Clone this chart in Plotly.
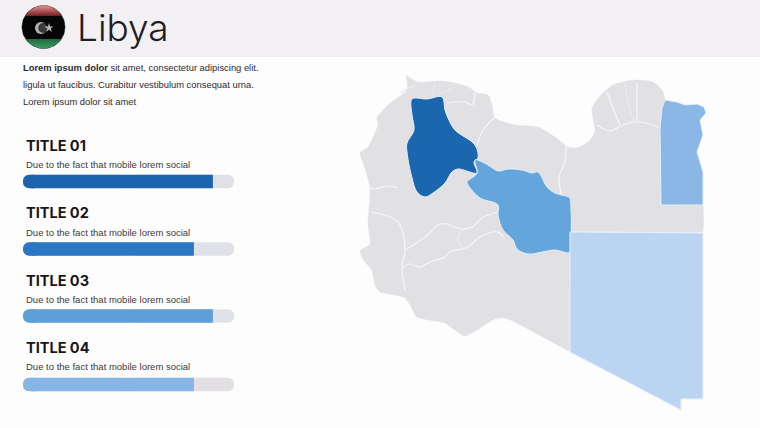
import numpy as np
import plotly.graph_objects as go

# ---------- data ----------
titles = ["TITLE 01", "TITLE 02", "TITLE 03", "TITLE 04"]
subtitle = "Due to the fact that mobile lorem social"
percent = [90, 81, 90, 81]
bar_colors = ["#1c65ae", "#2a78c4", "#5e9fd9", "#86b5e6"]
track_colors = ["#dfe1e7", "#dfe1e7", "#dfe2e6", "#e3e0e3"]
bar_y = [181.5, 249, 316, 384.5]
title_y = [145, 212, 280, 347]
sub_y = [164, 232, 299, 366]

paragraph = ["<b>Lorem ipsum dolor</b> sit amet, consectetur adipiscing elit.",
             "ligula ut faucibus. Curabitur vestibulum consequat urna.",
             "Lorem ipsum dolor sit amet"]
para_y = [67, 84, 101]

libya_outline = [(405,75),(418,82),(440,81),(455,83),(470,88),(477,93),(488,95),(492,105),(495,118),(515,125),
    (538,127),(555,137),(568,147),(577,148),(588,142),(595,132),(592,108),(603,93),(613,85),(627,81),(638,80),
    (653,82),(662,90),(665,100),(665,204),(666,205),(702,205),(703,206),(703,231),(702,232),(571,232),(570,233),
    (570,351),(569,351),(505,318),(495,319),(465,336),
    (455,330),(445,323),(417,317),(410,305),(405,298),(395,295),(380,292),(375,285),(372,270),(365,262),(360,251),
    (370,244),(368,225),(370,188),(365,168),(360,153),(368,147),(378,125),(377,118),(388,105),(407,90),(406,76),(405,75)]
dark_region = [(412,99),(427,99),(442,97),(445,110),(448,118),(455,130),(475,145),(478,158),(474,162),(477,173),
    (458,169),(452,172),(445,183),(433,193),(425,197),(417,192),(412,178),(407,152),(407,143),(414,130),(412,115)]
medium_region = [(475,160),(488,165),(498,171),(508,169),(522,170),(532,173),(538,172),(547,187),(555,193),(569,197),
    (570,198),(570,252),(569,253),(555,250),(547,251),(528,254),(517,249),(513,240),(503,230),(498,215),(498,205),
    (480,198),(468,185),(467,182),(477,173)]
east_region = [(665,100),(677,102),(685,105),(697,104),(704,107),(706,113),(700,120),(703,135),(697,152),(703,172),
    (703,205),(661,205),(660,128),(662,108)]
southeast_region = [(570,232),(703,233),(703,399),(681,399),(681,410),(570,352)]
region_fills = [("#1c66b0", dark_region, "spline"), ("#64a5dc", medium_region, "spline"),
                ("#8ab7e6", east_region, "linear"), ("#bbd4f1", southeast_region, "linear")]

borders = [
    [(370,187),(373,189),(388,186),(398,188)],
    [(372,212),(398,222),(405,250),(402,267),(405,290)],
    [(405,250),(425,237),(440,224),(447,224),(462,229),(472,227),(482,218),(497,212)],
    [(402,268),(410,264),(420,267),(430,262),(445,257),(450,252),(468,247),(480,237),(498,232),(503,237)],
    [(447,103),(465,102),(472,105),(475,93)],
    [(495,117),(483,130),(477,145)],
    [(566,145),(565,162),(559,177),(562,197)],
    [(597,125),(610,131),(623,125),(637,122),(650,124),(660,128)],
    [(607,92),(613,108),(620,125)],
    [(637,82),(637,122)],
]
faint_borders = [
    [(462,230),(458,240),(463,248)],
    [(400,93),(415,85)], [(435,83),(432,95)], [(455,87),(442,93)],
    [(625,85),(628,102),(634,122)],
]

flag_center = (43.5, 27)
flag_radius = 21.5
flag_red_edge = 16
flag_green_edge = 39

# ---------- figure ----------
fig = go.Figure()

# map
fig.add_trace(go.Scatter(x=[p[0] for p in libya_outline], y=[p[1] for p in libya_outline], mode="lines",
                         fill="toself", fillcolor="#e1e0e3",
                         line=dict(color="#e1e0e3", width=0.5, shape="spline", smoothing=0.6),
                         hoverinfo="skip"))
for group, colour in ((borders, "#f6f6f8"), (faint_borders, "#ebebee")):
    for b in group:
        fig.add_trace(go.Scatter(x=[p[0] for p in b], y=[p[1] for p in b], mode="lines",
                                 line=dict(color=colour, width=1.2, shape="spline"), hoverinfo="skip"))
for col, poly, shape in region_fills:
    fig.add_trace(go.Scatter(x=[p[0] for p in poly] + [poly[0][0]], y=[p[1] for p in poly] + [poly[0][1]],
                             mode="lines", fill="toself", fillcolor=col,
                             line=dict(color="#e3f0fa", width=1, shape=shape), hoverinfo="skip"))

# flag
cx, cy = flag_center
t = np.linspace(0, 2 * np.pi, 90)
fig.add_trace(go.Scatter(x=cx + flag_radius * np.cos(t), y=cy + flag_radius * np.sin(t), mode="lines",
                         fill="toself", fillcolor="#060606", line=dict(color="#060606", width=0.5),
                         hoverinfo="skip"))
def cap(edge, top):
    h = np.arccos(abs(edge - cy) / flag_radius)
    mid = -np.pi / 2 if top else np.pi / 2
    a = np.linspace(mid - h, mid + h, 40)
    return cx + flag_radius * np.cos(a), cy + flag_radius * np.sin(a)
rx, ry = cap(flag_red_edge, True)
fig.add_trace(go.Scatter(x=np.append(rx, rx[0]), y=np.append(ry, ry[0]), mode="lines", fill="toself",
                         fillcolor="#c85a5a", line=dict(width=0),
                         fillgradient=dict(type="vertical", colorscale=[[0, "#6e1f24"], [1, "#ec8f8f"]]),
                         hoverinfo="skip"))
gx, gy = cap(flag_green_edge, False)
fig.add_trace(go.Scatter(x=np.append(gx, gx[0]), y=np.append(gy, gy[0]), mode="lines", fill="toself",
                         fillcolor="#2f8f5b", line=dict(width=0),
                         fillgradient=dict(type="vertical", colorscale=[[0, "#3c9a66"], [1, "#1f6b43"]]),
                         hoverinfo="skip"))
fig.add_trace(go.Scatter(x=[41, 43.2, 49], y=[28, 28, 28], mode="markers", hoverinfo="skip",
                         marker=dict(size=[12, 10, 7], color=["#ffffff", "#060606", "#ffffff"],
                                     symbol=["circle", "circle", "star"], line=dict(width=0))))

# progress bars: a bar is rounded only at its far end, so the track is two halves
# growing out from the middle; the value is a rounded left cap plus a square body
for i, v in enumerate(percent):
    for length in (50, -50):
        fig.add_trace(go.Bar(x=[length], base=[50], y=[bar_y[i]], orientation="h", width=13.5,
                             xaxis="x2", yaxis="y2",
                             marker=dict(color=track_colors[i], cornerradius=7, line=dict(width=0)),
                             hoverinfo="skip"))
    fig.add_trace(go.Bar(x=[-8], base=[8], y=[bar_y[i]], orientation="h", width=13.5, xaxis="x2", yaxis="y2",
                         marker=dict(color=bar_colors[i], cornerradius=7, line=dict(width=0)), hoverinfo="skip"))
    fig.add_trace(go.Bar(x=[v - 4], base=[4], y=[bar_y[i]], orientation="h", width=13.5, xaxis="x2", yaxis="y2",
                         marker=dict(color=bar_colors[i], line=dict(width=0)), hoverinfo="skip"))

ann = [dict(x=75, y=27, text="Libya", font=dict(family="Inter", size=37, color="#1d1d24", weight=300))]
for s, y in zip(paragraph, para_y):
    ann.append(dict(x=21, y=y, text=s, font=dict(family="Liberation Sans", size=9.4, color="#2b2b30")))
for s, y in zip(titles, title_y):
    ann.append(dict(x=24, y=y, text=s, font=dict(family="Inter", size=14.5, color="#16161c", weight=700)))
for y in sub_y:
    ann.append(dict(x=24, y=y, text=subtitle, font=dict(family="Liberation Sans", size=9.5, color="#3a3a40")))
for a in ann:
    a.update(xref="x", yref="y", xanchor="left", yanchor="middle", showarrow=False)

fig.update_layout(
    width=760, height=428, margin=dict(l=0, r=0, t=0, b=0), showlegend=False,
    paper_bgcolor="#fefdfe", plot_bgcolor="rgba(0,0,0,0)", barmode="overlay",
    xaxis=dict(range=[0, 760], domain=[0, 1], visible=False, fixedrange=True),
    xaxis2=dict(range=[0, 100], domain=[23 / 760, 234 / 760], anchor="y2",
                visible=False, fixedrange=True),
    yaxis=dict(range=[428, 0], domain=[0, 1], visible=False, fixedrange=True),
    yaxis2=dict(range=[428, 0], domain=[0, 1], anchor="x2", visible=False, fixedrange=True),
    shapes=[dict(type="rect", xref="x", yref="y", x0=0, x1=760, y0=0, y1=57,
                 fillcolor="#f2f0f3", line=dict(width=0), layer="below")],
    annotations=ann,
)

fig.write_html("out.html", config=dict(displayModeBar=False),
               post_script="document.body.style.margin='0';document.body.style.overflow='hidden';")
